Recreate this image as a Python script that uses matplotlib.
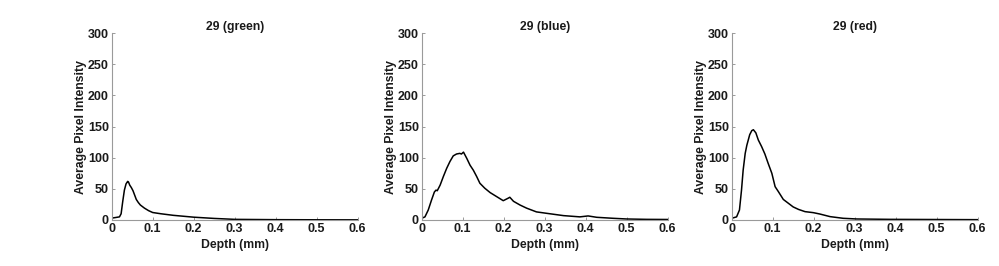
import matplotlib
matplotlib.use("Agg")
import matplotlib.pyplot as plt

# ---- data ----
titles = ["29 (green)", "29 (blue)", "29 (red)"]

green_x = [0.0, 0.01, 0.019, 0.023, 0.027, 0.031, 0.035, 0.039, 0.041, 0.044, 0.048, 0.052, 0.056,
           0.06, 0.065, 0.07, 0.08, 0.09, 0.1, 0.12, 0.15, 0.2, 0.25, 0.3, 0.4, 0.5, 0.6]
green_y = [3.0, 4.0, 5.0, 10.0, 30.0, 48.0, 58.0, 62.0, 61.0, 56.0, 52.0, 47.0, 40.0,
           33.0, 28.0, 24.0, 19.0, 15.0, 12.0, 10.0, 7.5, 4.5, 2.5, 1.0, 0.5, 0.3, 0.2]

blue_x = [0.0, 0.008, 0.016, 0.024, 0.031, 0.035, 0.038, 0.045, 0.053, 0.061, 0.069, 0.077, 0.085,
          0.093, 0.097, 0.102, 0.11, 0.118, 0.126, 0.134, 0.142, 0.154, 0.167, 0.183, 0.199,
          0.211, 0.215, 0.224, 0.24, 0.256, 0.28, 0.305, 0.346, 0.386, 0.406, 0.427, 0.467,
          0.5, 0.549, 0.6]
blue_y = [2.7, 5.0, 16.0, 32.0, 45.0, 48.0, 47.0, 56.0, 70.0, 83.0, 94.0, 103.0, 106.0,
          107.0, 106.0, 109.0, 99.0, 88.0, 80.0, 70.0, 59.0, 51.0, 44.0, 37.5, 31.0,
          35.0, 36.5, 30.0, 24.0, 19.0, 13.0, 10.7, 7.0, 5.0, 6.5, 4.3, 2.7,
          1.6, 1.0, 0.8]

red_x = [0.0, 0.012, 0.019, 0.024, 0.028, 0.033, 0.037, 0.044, 0.049, 0.053, 0.059, 0.065, 0.073,
         0.081, 0.089, 0.098, 0.106, 0.114, 0.126, 0.138, 0.15, 0.163, 0.179, 0.199, 0.215,
         0.24, 0.272, 0.305, 0.386, 0.6]
red_y = [2.7, 5.0, 16.0, 48.0, 80.0, 107.0, 120.0, 137.0, 143.5, 145.0, 140.0, 128.5, 118.0,
         106.0, 91.0, 75.0, 53.5, 45.5, 33.0, 27.0, 21.0, 17.0, 13.4, 11.8, 9.6,
         5.4, 2.7, 1.6, 1.0, 0.5]

series_x = [green_x, blue_x, red_x]
series_y = [green_y, blue_y, red_y]

x_ticks = [0, 0.1, 0.2, 0.3, 0.4, 0.5, 0.6]
x_ticklabels = ["0", "0.1", "0.2", "0.3", "0.4", "0.5", "0.6"]
y_ticks = [0, 50, 100, 150, 200, 250, 300]

# ---- figure ----
plt.rcParams['font.family'] = ['Liberation Sans', 'DejaVu Sans']
plt.rcParams['font.weight'] = 'bold'

fig = plt.figure(figsize=(9.99, 2.66), dpi=100)
lefts = [0.1118, 0.4221, 0.7324]
width = 0.2462
bottom = 0.173
height = 0.702

axis_color = '#9a9a9a'
text_color = '#1a1a1a'
for i in range(3):
    ax = fig.add_axes([lefts[i], bottom, width, height])
    ax.plot(series_x[i], series_y[i], color='black', linewidth=1.1)
    ax.set_xlim(0, 0.6)
    ax.set_ylim(0, 300)
    ax.set_xticks(x_ticks)
    ax.set_xticklabels(x_ticklabels)
    ax.set_yticks(y_ticks)
    for s in ['top', 'right']:
        ax.spines[s].set_visible(False)
    for s in ['left', 'bottom']:
        ax.spines[s].set_color(axis_color)
        ax.spines[s].set_linewidth(0.8)
    ax.tick_params(direction='in', length=2.5, width=0.7, color=axis_color,
                   labelsize=9, labelcolor=text_color, pad=2)
    for lab in ax.get_xticklabels() + ax.get_yticklabels():
        lab.set_fontweight('bold')
    ax.set_xlabel("Depth (mm)", fontsize=8.8, fontweight='bold', color=text_color, labelpad=3)
    ax.set_ylabel("Average Pixel Intensity", fontsize=8.8, fontweight='bold', color=text_color, labelpad=1)
    ax.set_title(titles[i], fontsize=8.8, fontweight='bold', color=text_color, pad=2)

fig.savefig("out.png", dpi=100)
